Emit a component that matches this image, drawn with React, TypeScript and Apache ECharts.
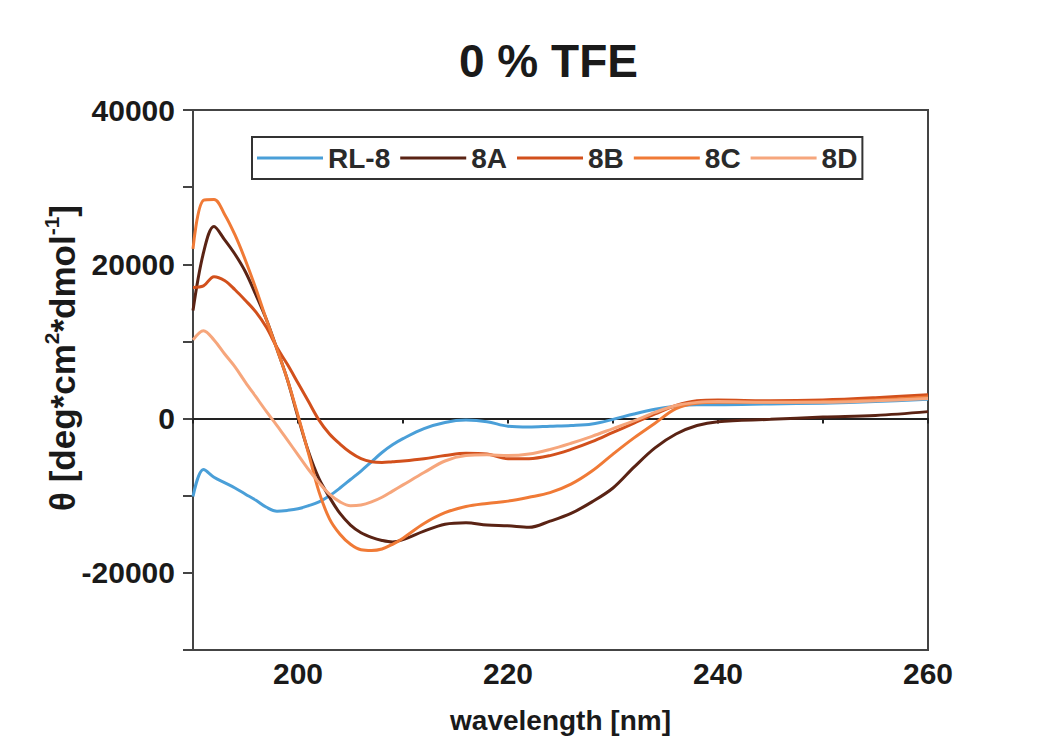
import React, { useEffect, useRef } from "react";
import * as echarts from "echarts";

const wavelength = [190, 191, 192, 193, 194, 195, 196, 197, 198, 199, 200, 201, 202, 203, 204, 205, 206, 207, 208, 209, 210, 212, 214, 216, 218, 220, 222, 224, 226, 228, 230, 232, 234, 236, 238, 240, 245, 250, 255, 260];

const rl8 = [-10100, -6600, -7600, -8300, -9000, -9800, -10600, -11500, -12000, -11900, -11700, -11300, -10800, -10000, -9000, -7900, -6800, -5600, -4400, -3400, -2600, -1300, -500, -200, -400, -1000, -1100, -1000, -900, -700, -100, 600, 1200, 1600, 1800, 1800, 1900, 2000, 2200, 2500];
const s8A = [14000, 21500, 24900, 23200, 21300, 19000, 16000, 12800, 9000, 5000, 200, -4300, -7800, -10200, -12300, -13800, -14800, -15400, -15800, -16000, -15700, -14600, -13700, -13500, -13800, -13900, -14100, -13300, -12300, -10800, -9000, -6300, -3800, -2000, -900, -400, -100, 200, 400, 900];
const s8B = [17000, 17200, 18400, 17900, 16700, 15300, 13800, 11800, 9200, 7000, 4600, 2200, -200, -2000, -3300, -4400, -5200, -5600, -5700, -5600, -5500, -5200, -4800, -4500, -4600, -5200, -5200, -4800, -4000, -3000, -1800, -600, 600, 1700, 2300, 2400, 2300, 2400, 2700, 3100];
const s8C = [22000, 28300, 28400, 26500, 23800, 20500, 16800, 12800, 9000, 5000, 400, -4500, -9500, -13000, -15000, -16300, -17000, -17100, -16900, -16300, -15500, -13600, -12200, -11400, -11000, -10700, -10200, -9600, -8500, -6800, -4600, -2500, -600, 1300, 2000, 2100, 2100, 2200, 2400, 2800];
const s8D = [10200, 11400, 10200, 8400, 6700, 4700, 2800, 900, -900, -2800, -4700, -6600, -8300, -9800, -10800, -11300, -11200, -10800, -10200, -9400, -8600, -7000, -5500, -4800, -4700, -4800, -4600, -4000, -3200, -2300, -1300, -300, 800, 1700, 2100, 2200, 2100, 2100, 2300, 2600];

const seriesNames = ["RL-8", "8A", "8B", "8C", "8D"];
const seriesValues = [rl8, s8A, s8B, s8C, s8D];
const seriesColors = ["#4a9fd8", "#5a2314", "#d2501c", "#f07a36", "#f6a67c"];

const FONT = "Liberation Sans, Arial, sans-serif";

export default function App() {
  const ref = useRef<HTMLDivElement>(null);
  useEffect(() => {
    if (!ref.current) return;
    const chart = echarts.init(ref.current, null, { renderer: "svg" });
    const option: any = {
      animation: false,
      backgroundColor: "#ffffff",
      title: {
        text: "0 % TFE",
        left: 454,
        top: 33,
        textStyle: { fontFamily: FONT, fontWeight: "bold", fontSize: 46, color: "#1a1a1a" },
      },
      legend: {
        data: seriesNames.map((n) => ({ name: n, icon: "rect" })),
        left: 252,
        top: 137,
        orient: "horizontal",
        itemWidth: 66,
        itemHeight: 3,
        itemGap: 10,
        padding: [7, 5, 7, 5],
        borderColor: "#333",
        borderWidth: 2,
        textStyle: { fontFamily: FONT, fontWeight: "bold", fontSize: 28, color: "#2a2a2a" },
      },
      grid: {
        left: 193,
        right: 136,
        top: 110,
        bottom: 87,
        show: true,
        borderColor: "#444",
        borderWidth: 2,
        outerBoundsMode: "none",
        containLabel: false,
      },
      xAxis: [
        {
          type: "value",
          min: 190,
          max: 260,
          interval: 10,
          position: "bottom",
          name: "wavelength [nm]",
          nameLocation: "middle",
          nameGap: 56,
          nameTextStyle: { fontFamily: FONT, fontWeight: "bold", fontSize: 28, color: "#1a1a1a" },
          axisLine: { onZero: false, lineStyle: { color: "#444", width: 2 } },
          axisTick: { show: false },
          splitLine: { show: false },
          axisLabel: {
            margin: 8,
            fontFamily: FONT,
            fontWeight: "bold",
            fontSize: 30,
            color: "#1a1a1a",
            formatter: (v: number) => (v % 20 === 0 ? String(v) : ""),
          },
        },
        {
          type: "value",
          min: 190,
          max: 260,
          interval: 10,
          position: "bottom",
          axisLine: { show: true, onZero: true, onZeroAxisIndex: 0, lineStyle: { color: "#222", width: 2 } },
          axisTick: { show: true, length: 5, lineStyle: { color: "#222", width: 2 } },
          axisLabel: { show: false },
          splitLine: { show: false },
        },
      ],
      yAxis: {
        type: "value",
        min: -30000,
        max: 40000,
        interval: 10000,
        axisLine: { show: true, onZero: false, lineStyle: { color: "#444", width: 2 } },
        axisTick: { show: true, length: 10, lineStyle: { color: "#444", width: 2 } },
        splitLine: { show: false },
        axisLabel: {
          margin: 18,
          fontFamily: FONT,
          fontWeight: "bold",
          fontSize: 30,
          color: "#1a1a1a",
          formatter: (v: number) => (v % 20000 === 0 ? String(v) : ""),
        },
      },
      graphic: [
        {
          type: "text",
          x: 60,
          y: 358,
          rotation: Math.PI / 2,
          style: {
            text: "{m|θ [deg*cm}{s|2}{m|*dmol}{s|-1}{m|]}",
            align: "center",
            verticalAlign: "middle",
            rich: {
              m: { fontFamily: FONT, fontWeight: "bold", fontSize: 35, fill: "#1a1a1a", lineHeight: 39, verticalAlign: "bottom" },
              s: { fontFamily: FONT, fontWeight: "bold", fontSize: 21, fill: "#1a1a1a", lineHeight: 39, verticalAlign: "top" },
            },
          },
        },
      ],
      series: seriesNames.map((name, k) => ({
        name,
        type: "line",
        xAxisIndex: 0,
        symbol: "none",
        smooth: 0.35,
        lineStyle: { color: seriesColors[k], width: 3 },
        itemStyle: { color: seriesColors[k] },
        data: wavelength.map((x, i) => [x, seriesValues[k][i]]),
      })),
    };
    chart.setOption(option);
    return () => chart.dispose();
  }, []);
  return <div ref={ref} style={{ position: "fixed", left: 0, top: 0, width: 1064, height: 737 }} />;
}
